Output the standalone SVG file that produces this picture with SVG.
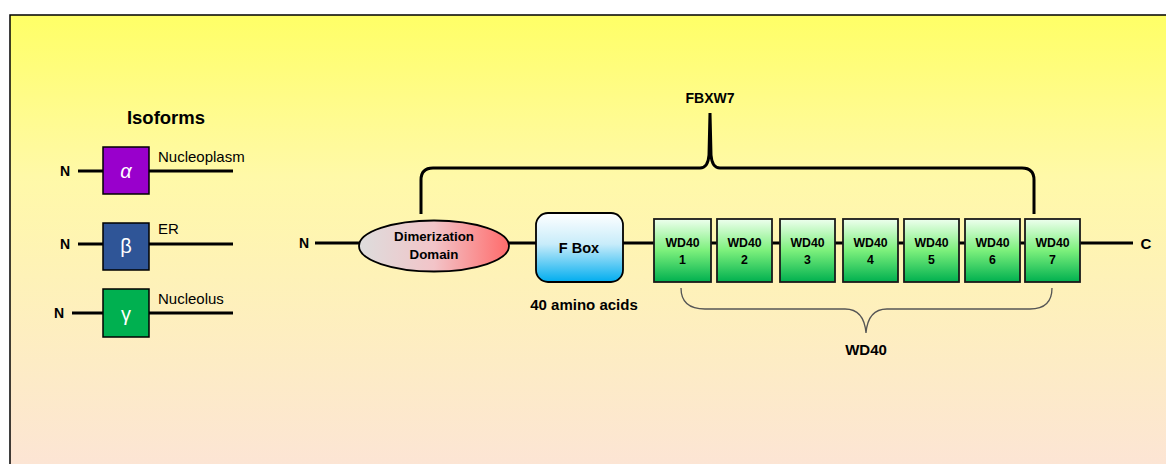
<svg xmlns="http://www.w3.org/2000/svg" width="1166" height="464" viewBox="0 0 1166 464">
<defs>
<linearGradient id="bg" x1="0" y1="0" x2="0" y2="1">
<stop offset="0" stop-color="#FFFF66"/>
<stop offset="0.35" stop-color="#FFF9A8"/>
<stop offset="1" stop-color="#FCE4D6"/>
</linearGradient>
<linearGradient id="ell" x1="0" y1="0" x2="1" y2="0">
<stop offset="0" stop-color="#DDDDDD"/>
<stop offset="0.5" stop-color="#F2C4C8"/>
<stop offset="1" stop-color="#FF6B6B"/>
</linearGradient>
<linearGradient id="fbox" x1="0" y1="0" x2="0" y2="1">
<stop offset="0" stop-color="#FFFFFF"/>
<stop offset="0.45" stop-color="#C8ECFA"/>
<stop offset="1" stop-color="#00ADEF"/>
</linearGradient>
<linearGradient id="wd" x1="0" y1="0" x2="0" y2="1">
<stop offset="0" stop-color="#EEFFEE"/>
<stop offset="0.5" stop-color="#7CF07C"/>
<stop offset="1" stop-color="#00B04F"/>
</linearGradient>
<style>
.t{font-family:"Liberation Sans",Arial,sans-serif;fill:#000}
.b{font-weight:bold}
.ln{stroke:#000;stroke-width:3;fill:none}
.box{stroke:#000;stroke-width:1.5}
.wd{fill:url(#wd);stroke:#1a1a1a;stroke-width:1.8}
.wt{font-family:"Liberation Sans",Arial,sans-serif;font-weight:bold;font-size:12.3px;text-anchor:middle}
.w{fill:#fff}
</style>
</defs>
<rect x="10" y="15" width="1170" height="460" fill="url(#bg)" stroke="#000" stroke-width="1.5"/>

<g id="isoforms">
<text class="t b" x="166" y="124" font-size="18.5" text-anchor="middle">Isoforms</text>
</g>
<g id="alpha">
<text class="t b" x="65" y="176" font-size="14" text-anchor="middle">N</text>
<line class="ln" x1="78" y1="171" x2="103" y2="171"/>
<line class="ln" x1="149" y1="171" x2="233" y2="171"/>
<rect class="box" x="103" y="147" width="46" height="47" fill="#9900CC"/>
<text class="t w" x="126" y="178" font-size="20" font-style="italic" text-anchor="middle">α</text>
<text class="t" x="158" y="162" font-size="15">Nucleoplasm</text>
</g>
<g id="beta">
<text class="t b" x="65" y="249" font-size="14" text-anchor="middle">N</text>
<line class="ln" x1="78" y1="244" x2="103" y2="244"/>
<line class="ln" x1="149" y1="244" x2="233" y2="244"/>
<rect class="box" x="103" y="223" width="46" height="47" fill="#2F5597"/>
<text class="t w" x="126" y="253" font-size="20" text-anchor="middle">β</text>
<text class="t" x="158" y="234" font-size="15">ER</text>
</g>
<g id="gamma">
<text class="t b" x="59" y="318" font-size="14" text-anchor="middle">N</text>
<line class="ln" x1="72" y1="313" x2="103" y2="313"/>
<line class="ln" x1="149" y1="313" x2="233" y2="313"/>
<rect class="box" x="103" y="289" width="46" height="48" fill="#00B050"/>
<text class="t w" x="126" y="321" font-size="20" text-anchor="middle">γ</text>
<text class="t" x="158" y="304" font-size="15">Nucleolus</text>
</g>

<g id="connectors">
<line class="ln" x1="315" y1="243" x2="360" y2="243"/>
<line class="ln" x1="509" y1="243" x2="536" y2="243"/>
<line class="ln" x1="623" y1="243" x2="654" y2="243"/>
<line class="ln" x1="711" y1="243" x2="717" y2="243"/>
<line class="ln" x1="772" y1="243" x2="780" y2="243"/>
<line class="ln" x1="835" y1="243" x2="843" y2="243"/>
<line class="ln" x1="898" y1="243" x2="904" y2="243"/>
<line class="ln" x1="959" y1="243" x2="965" y2="243"/>
<line class="ln" x1="1020" y1="243" x2="1025" y2="243"/>
<line class="ln" x1="1080" y1="243" x2="1133" y2="243"/>
<path class="ln" d="M421 214 L421 180 Q421 168 433 168 L700 168 Q708 168 709 155 L710 113 L711 155 Q712 168 720 168 L1022 168 Q1034 168 1034 180 L1034 214"/>
<path d="M681 288 Q681 309 705 309 L845 309 Q864 309 866 333 Q868 309 887 309 L1030 309 Q1052 309 1052 288" fill="none" stroke="#555" stroke-width="1.3"/>
</g>

<g id="nterm">
<text class="t b" x="304" y="248" font-size="14" text-anchor="middle">N</text>
</g>
<g id="cterm">
<text class="t b" x="1146" y="249" font-size="15" text-anchor="middle">C</text>
</g>

<g id="fbxw7">
<text class="t b" x="710" y="103" font-size="14" text-anchor="middle">FBXW7</text>
</g>

<g id="dimerization">
<ellipse cx="434" cy="246" rx="75" ry="25.5" fill="url(#ell)" stroke="#000" stroke-width="1.8"/>
<text class="t b" x="434" y="241" font-size="13.3" text-anchor="middle">Dimerization</text>
<text class="t b" x="434" y="259" font-size="13.3" text-anchor="middle">Domain</text>
</g>

<g id="fbox-node">
<rect x="536" y="213" width="87" height="69" rx="12" fill="url(#fbox)" stroke="#000" stroke-width="1.8"/>
<text class="t b" x="579" y="253" font-size="14.5" text-anchor="middle">F Box</text>
<text class="t b" x="584" y="310" font-size="15" text-anchor="middle">40 amino acids</text>
</g>

<g id="wd1"><rect class="wd" x="654" y="219" width="57" height="63"/><text class="t wt" x="682.5" y="247">WD40</text><text class="t wt" x="682.5" y="264">1</text></g>
<g id="wd2"><rect class="wd" x="717" y="219" width="55" height="63"/><text class="t wt" x="744.5" y="247">WD40</text><text class="t wt" x="744.5" y="264">2</text></g>
<g id="wd3"><rect class="wd" x="780" y="219" width="55" height="63"/><text class="t wt" x="807.5" y="247">WD40</text><text class="t wt" x="807.5" y="264">3</text></g>
<g id="wd4"><rect class="wd" x="843" y="219" width="55" height="63"/><text class="t wt" x="870.5" y="247">WD40</text><text class="t wt" x="870.5" y="264">4</text></g>
<g id="wd5"><rect class="wd" x="904" y="219" width="55" height="63"/><text class="t wt" x="931.5" y="247">WD40</text><text class="t wt" x="931.5" y="264">5</text></g>
<g id="wd6"><rect class="wd" x="965" y="219" width="55" height="63"/><text class="t wt" x="992.5" y="247">WD40</text><text class="t wt" x="992.5" y="264">6</text></g>
<g id="wd7"><rect class="wd" x="1025" y="219" width="55" height="63"/><text class="t wt" x="1052.5" y="247">WD40</text><text class="t wt" x="1052.5" y="264">7</text></g>

<g id="wd40-label">
<text class="t b" x="866" y="355" font-size="15" text-anchor="middle">WD40</text>
</g>
</svg>
